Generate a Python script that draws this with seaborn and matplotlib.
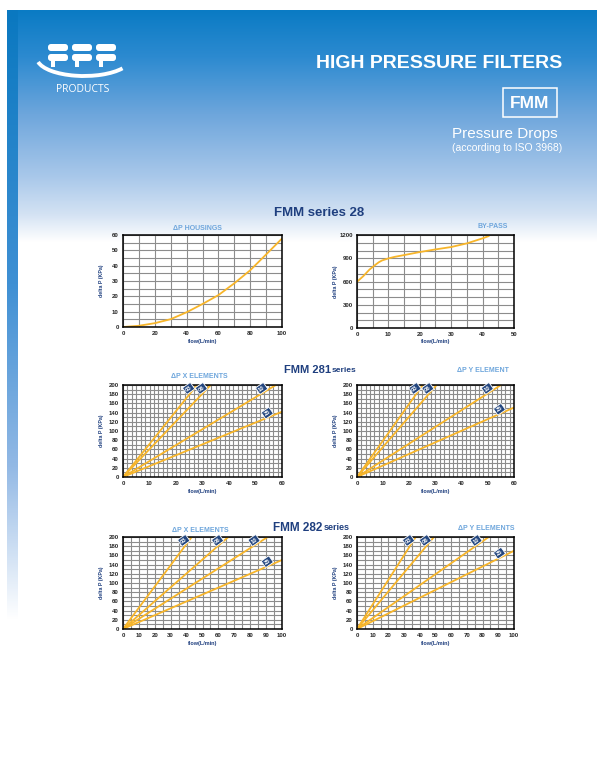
import numpy as np
import pandas as pd
import matplotlib
matplotlib.use("Agg")
import matplotlib.pyplot as plt
import seaborn as sns
from matplotlib.colors import LinearSegmentedColormap
from matplotlib.patches import FancyBboxPatch, Rectangle, Arc
from matplotlib.ticker import FixedLocator

# data
housing_flow = [0, 10, 20, 30, 40, 50, 60, 70, 80, 90, 100]
housing_dp = [0, 0.8, 2.5, 5.1, 9.6, 15, 20.8, 28.5, 37, 47.3, 57.7]

bypass_flow = [0, 2, 4, 6, 7, 8, 10, 12, 15, 20, 25, 30, 35, 40, 42]
bypass_dp = [596, 669, 755, 820, 850, 872, 898, 918, 941, 980, 1014, 1045, 1092, 1157, 1187]

element_grades = ["03", "06", "10", "25"]
# straight element lines from the origin to where they leave the chart
x281_flow_end = [27.9, 33.1, 57.7, 60]
x281_dp_end = [200, 200, 200, 142]
y281_flow_end = [25.1, 30.4, 55.0, 60]
y281_dp_end = [200, 200, 200, 151]
x282_flow_end = [43.2, 66.2, 91.0, 100]
x282_dp_end = [200, 200, 200, 150]
y282_flow_end = [37.4, 49.0, 83.9, 100]
y282_dp_end = [200, 200, 200, 170]

W, H = 603, 757
LINE = "#f7b52a"
NAVY = "#1f3f7f"
LIGHT = "#6ea6dc"

sns.set_style("white")
plt.rcParams["font.family"] = ["Liberation Sans", "DejaVu Sans"]

fig = plt.figure(figsize=(W / 100, H / 100), dpi=100)

# %% background: header banner + left strip
bg = fig.add_axes([0, 0, 1, 1])
banner = LinearSegmentedColormap.from_list(
    "banner", [(0, "#0a7bc4"), (0.2, "#2c8ad0"), (0.45, "#6ea6dc"),
               (0.72, "#a9c8ea"), (0.88, "#d3e2f3"), (1, "#ffffff")])
strip = LinearSegmentedColormap.from_list(
    "strip", [(0, "#0a78c0"), (0.45, "#3f90d4"), (0.75, "#93b9e5"), (1, "#ffffff")])
grad = np.linspace(0, 1, 256).reshape(-1, 1)
bg.imshow(grad, cmap=banner, aspect="auto", extent=[18, 597, 242, 10], origin="upper")
bg.imshow(grad, cmap=strip, aspect="auto", extent=[7, 18, 620, 10], origin="upper")
bg.set_xlim(0, W)
bg.set_ylim(H, 0)
bg.axis("off")

# logo
for x0 in (48, 72, 96):
    bg.add_patch(FancyBboxPatch((x0, 44), 20, 7, boxstyle="round,pad=0,rounding_size=3",
                                fc="white", ec="none"))
    bg.add_patch(FancyBboxPatch((x0, 54), 20, 7, boxstyle="round,pad=0,rounding_size=3",
                                fc="white", ec="none"))
    bg.add_patch(Rectangle((x0 + 3, 61), 3.5, 6, fc="white", ec="none"))
bg.add_patch(Arc((84, 58), 94, 36, theta1=15, theta2=175, color="white", lw=2.8))
bg.text(83, 89, "PRODUCTS", color="white", fontsize=7.5, ha="center", va="center",
        family=["Open Sans", "DejaVu Sans"])

# titles
bg.text(562, 64, "HIGH PRESSURE FILTERS", color="white", fontsize=14, weight="bold",
        ha="right", va="center")
bg.add_patch(Rectangle((503, 88), 54, 29, fill=False, ec="white", lw=1.1))
bg.text(530, 103, "FMM", color="white", fontsize=12.5, weight="bold", ha="center", va="center")
bg.text(558, 134, "Pressure Drops", color="white", fontsize=11, ha="right", va="center")
bg.text(562, 148, "(according to ISO 3968)", color="white", fontsize=7.5, ha="right", va="center")

# section headers
bg.text(319, 213, "FMM series 28", color=NAVY, fontsize=9.5, weight="bold", ha="center", va="center")
bg.text(331, 370, "FMM 281", color=NAVY, fontsize=8, weight="bold", ha="right", va="center")
bg.text(332, 371, "series", color=NAVY, fontsize=6, weight="bold", ha="left", va="center")
bg.text(322, 528, "FMM 282", color=NAVY, fontsize=8.5, weight="bold", ha="right", va="center")
bg.text(324, 528, "series", color=NAVY, fontsize=6.5, weight="bold", ha="left", va="center")

# chart titles
for x, y, s in [(197, 229, "\u0394P HOUSINGS"), (493, 227, "BY-PASS"),
                (199, 377, "\u0394P X ELEMENTS"), (483, 370, "\u0394P Y ELEMENT"),
                (200, 530, "\u0394P X ELEMENTS"), (486, 529, "\u0394P Y ELEMENTS")]:
    bg.text(x, y, s, color=LIGHT, fontsize=5, weight="bold", ha="center", va="center")


def make_axes(l, t, r, b):
    ax = fig.add_axes([l / W, 1 - b / H, (r - l) / W, (b - t) / H])
    bg.text(l - 21, (t + b) / 2, "delta P (KPa)", color=NAVY, fontsize=3.8, weight="bold",
            rotation=90, ha="center", va="center")
    bg.text((l + r) / 2, b + 14, "flow(L/min)", color=NAVY, fontsize=4, weight="bold",
            ha="center", va="center")
    return ax


def style_grid(ax, xmax, ymax, xgrid, ygrid, xlab, ylab):
    ax.set_xlim(0, xmax)
    ax.set_ylim(0, ymax)
    ax.xaxis.set_major_locator(FixedLocator(xlab))
    ax.yaxis.set_major_locator(FixedLocator(ylab))
    ax.xaxis.set_minor_locator(FixedLocator(xgrid))
    ax.yaxis.set_minor_locator(FixedLocator(ygrid))
    ax.set_axisbelow(True)
    ax.grid(which="both", color="#8c8c8c", lw=0.8)
    ax.tick_params(which="minor", length=0)
    ax.tick_params(axis="x", which="major", length=0, pad=3, labelsize=4.3)
    ax.tick_params(axis="y", which="major", length=2, width=0.6, pad=1, labelsize=4.3)
    plt.setp(ax.get_xticklabels() + ax.get_yticklabels(), fontweight="bold")
    for s in ax.spines.values():
        s.set_color("black")
        s.set_linewidth(1.1)
    ax.set_xlabel("")
    ax.set_ylabel("")


def element_chart(ax, flow_end, dp_end, xmax, xgrid):
    df = pd.DataFrame({
        "grade": [g for g in element_grades for _ in range(2)],
        "flow": [v for fe in flow_end for v in (0, fe)],
        "dp": [v for de in dp_end for v in (0, de)],
    })
    sns.lineplot(data=df, x="flow", y="dp", hue="grade", ax=ax, legend=False,
                 palette={g: LINE for g in element_grades}, lw=1.3)
    style_grid(ax, xmax, 200, xgrid, np.arange(0, 201, 10), np.arange(0, xmax + 1, 10),
               np.arange(0, 201, 20))
    for g, fe, de in zip(element_grades, flow_end, dp_end):
        ax.annotate(g, xy=(0.925 * fe, 0.925 * de), xytext=(-2, 2.5), textcoords="offset points",
                    rotation=35, fontsize=4.2, color="white", weight="bold",
                    ha="center", va="center", annotation_clip=False,
                    bbox=dict(boxstyle="round,pad=0.25,rounding_size=0.15",
                              fc="#23467f", ec="white", lw=0.6))


# %% FMM series 28
ax1 = make_axes(123, 235, 282, 327)
sns.lineplot(x=housing_flow, y=housing_dp, ax=ax1, color=LINE, lw=1.3)
style_grid(ax1, 100, 60, np.arange(0, 101, 10), np.arange(0, 61, 5),
           np.arange(0, 101, 20), np.arange(0, 61, 10))

ax2 = make_axes(357, 235, 514, 328)
sns.lineplot(x=bypass_flow, y=bypass_dp, ax=ax2, color=LINE, lw=1.3)
style_grid(ax2, 50, 1200, np.arange(0, 51, 5), np.arange(0, 1201, 100),
           np.arange(0, 51, 10), np.arange(0, 1201, 300))

# %% FMM 281 series
ax3 = make_axes(123, 385, 282, 477)
element_chart(ax3, x281_flow_end, x281_dp_end, 60, np.linspace(0, 60, 37))
ax4 = make_axes(357, 385, 514, 477)
element_chart(ax4, y281_flow_end, y281_dp_end, 60, np.linspace(0, 60, 37))

# %% FMM 282 series
ax5 = make_axes(123, 537, 282, 629)
element_chart(ax5, x282_flow_end, x282_dp_end, 100, np.arange(0, 101, 5))
ax6 = make_axes(357, 537, 514, 629)
element_chart(ax6, y282_flow_end, y282_dp_end, 100, np.arange(0, 101, 5))

fig.savefig("out.png", dpi=100)
